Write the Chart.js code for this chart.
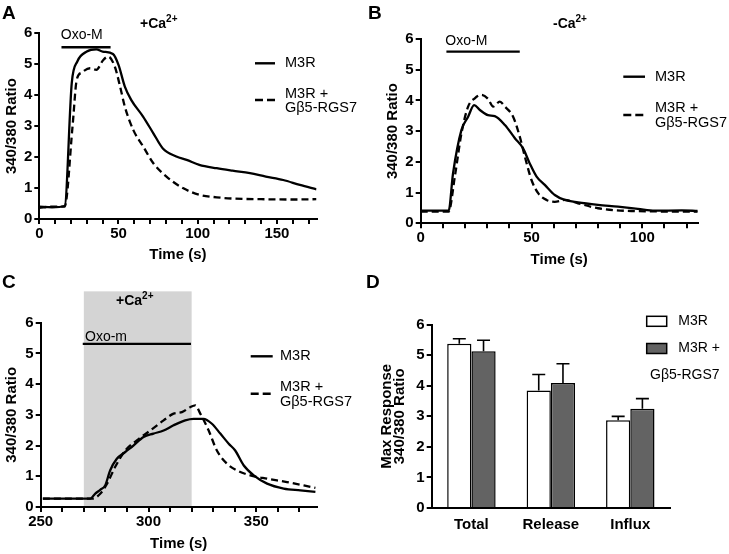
<!DOCTYPE html>
<html><head><meta charset="utf-8">
<script src="https://cdn.jsdelivr.net/npm/chart.js@4.4.1/dist/chart.umd.min.js"></script>
<style>
html,body{margin:0;padding:0;background:#fff;width:729px;height:554px;overflow:hidden;font-family:"Liberation Sans",Arial,sans-serif;}
canvas{position:absolute;left:0;top:0;}
.lbl{position:absolute;font-weight:bold;color:#000;line-height:1;white-space:nowrap;}
.let{font-size:19px;}
.ca{font-size:14px;}
.ca sup{font-size:10px;vertical-align:0;position:relative;top:-6px;}
</style></head><body>
<canvas id="cA" width="729" height="554"></canvas>
<canvas id="cB" width="729" height="554"></canvas>
<canvas id="cC" width="729" height="554"></canvas>
<canvas id="cD" width="729" height="554"></canvas>
<div class="lbl let" style="left:2px;top:3px;">A</div>
<div class="lbl let" style="left:368px;top:3px;">B</div>
<div class="lbl let" style="left:2px;top:272px;">C</div>
<div class="lbl let" style="left:366px;top:272px;">D</div>
<div class="lbl ca" style="left:140px;top:16px;">+Ca<sup>2+</sup></div>
<div class="lbl ca" style="left:553px;top:16px;">-Ca<sup>2+</sup></div>
<div class="lbl ca" style="left:116px;top:293px;">+Ca<sup>2+</sup></div>
<script>
// ---------- DATA ----------
// Panel A (+Ca2+)
const aTimeM3R = [0, 8, 16, 20.5, 24, 30, 36, 40, 46.5, 50, 54, 58, 65.5, 72, 78, 86.5, 93, 101, 112, 122, 133, 143, 154, 164.5, 175];
const aM3R     = [0.40, 0.38, 0.42, 4.40, 5.09, 5.41, 5.48, 5.41, 5.33, 4.98, 4.28, 3.85, 3.31, 2.77, 2.28, 2.02, 1.91, 1.75, 1.64, 1.56, 1.48, 1.37, 1.26, 1.10, 0.96];
const aTimeRGS = [0, 8, 16, 21, 23.6, 26.7, 32, 36, 40.4, 43.5, 47.7, 51, 54, 59.3, 65.6, 72, 80.3, 91, 101.4, 112, 122, 140, 160, 175];
const aRGS     = [0.36, 0.40, 0.40, 3.00, 4.49, 4.73, 4.87, 4.82, 5.14, 5.25, 4.92, 4.28, 3.63, 2.88, 2.34, 1.80, 1.37, 0.99, 0.78, 0.70, 0.66, 0.64, 0.63, 0.64];
const aOxo = [14, 45]; const aOxoLevel = 5.55;

// Panel B (-Ca2+)
const bTimeM3R = [0, 12.6, 14.6, 18.4, 21.4, 24.1, 26.7, 30.4, 33.4, 38, 42.5, 46.2, 49.2, 52.3, 56, 60.5, 65, 71, 80, 89, 98, 105.7, 117.8, 125];
const bM3R     = [0.41, 0.41, 1.63, 3.04, 3.47, 3.85, 3.69, 3.52, 3.49, 3.20, 2.77, 2.44, 1.95, 1.52, 1.25, 0.92, 0.76, 0.68, 0.60, 0.54, 0.47, 0.41, 0.42, 0.40];
const bTimeRGS = [0, 12.6, 15.4, 18.4, 21.4, 24.4, 27.4, 30.4, 32.7, 35.7, 38, 41.7, 44.7, 47, 50, 53, 56.8, 60.5, 65, 71, 80, 95, 125];
const bRGS     = [0.38, 0.38, 1.52, 2.93, 3.80, 4.07, 4.18, 4.05, 3.80, 3.96, 3.80, 3.47, 2.82, 2.17, 1.41, 0.98, 0.76, 0.70, 0.76, 0.65, 0.49, 0.40, 0.38];
const bOxo = [11.6, 44.7]; const bOxoLevel = 5.59;

// Panel C (Ca2+ add-back)
const cTimeM3R = [251, 273, 275.2, 277.6, 279.9, 282.2, 285.3, 289.2, 293, 297.7, 302.3, 307, 311.6, 317, 320.9, 325.5, 329.4, 333.3, 337.2, 340.2, 344.1, 348.8, 355, 362.7, 370.4, 377.4];
const cM3R     = [0.27, 0.27, 0.43, 0.56, 0.70, 1.19, 1.57, 1.79, 2.00, 2.28, 2.39, 2.49, 2.66, 2.82, 2.87, 2.87, 2.71, 2.39, 2.06, 1.84, 1.36, 1.03, 0.76, 0.60, 0.54, 0.49];
const cTimeRGS = [251, 273.7, 277.6, 280.7, 284.5, 289.2, 294.6, 300.8, 307, 311.6, 315.5, 319.3, 321.7, 324, 327.9, 331.7, 336.4, 341, 347.2, 355, 364.2, 372, 377.4];
const cRGS     = [0.27, 0.27, 0.43, 0.75, 1.30, 1.84, 2.17, 2.49, 2.82, 3.04, 3.09, 3.25, 3.31, 3.04, 2.49, 1.84, 1.41, 1.19, 1.03, 0.92, 0.81, 0.70, 0.62];
const cOxo = [269.5, 319.7]; const cOxoLevel = 5.31;
const cCaBand = [270, 320];

// Panel D (max response)
const dCategories = ['Total', 'Release', 'Influx'];
const dM3R    = [5.38, 3.85, 2.87];
const dM3RErr = [0.16, 0.52, 0.13];
const dRGS    = [5.13, 4.09, 3.25];
const dRGSErr = [0.36, 0.63, 0.33];

const yTicks = [0, 1, 2, 3, 4, 5, 6];

// ---------- HELPERS ----------
const FONT = '"Liberation Sans", Arial, sans-serif';
const W = 729, H = 554;
const xy = (t, v) => t.map((x, i) => ({x, y: v[i]}));

const deco = {
  id: 'deco',
  beforeDraw(chart, args, o) {
    if (!o.band) return;
    const {ctx, scales: {x, y}} = chart;
    const x0 = x.getPixelForValue(o.band[0]), x1 = x.getPixelForValue(o.band[1]);
    const y0 = y.getPixelForValue(0), y1 = y.getPixelForValue(o.bandTop);
    ctx.save(); ctx.fillStyle = o.bandColor; ctx.fillRect(x0, y1, x1 - x0, y0 - y1); ctx.restore();
  },
  afterDatasetsDraw(chart, args, o) {
    const {ctx, scales: {x, y}} = chart;
    ctx.save();
    (o.texts || []).forEach(t => {
      ctx.font = t.font; ctx.fillStyle = '#000'; ctx.textAlign = 'center'; ctx.textBaseline = 'middle';
      ctx.fillText(t.text, x.getPixelForValue(t.x), y.getPixelForValue(t.y) + t.dy);
    });
    (o.errors || []).forEach(e => {
      const meta = chart.getDatasetMeta(e.ds);
      const vals = chart.data.datasets[e.ds].data;
      meta.data.forEach((el, i) => {
        const top = y.getPixelForValue(vals[i] + e.err[i]);
        ctx.strokeStyle = '#000'; ctx.lineWidth = 1.6; ctx.setLineDash([]);
        ctx.beginPath();
        ctx.moveTo(el.x, el.y); ctx.lineTo(el.x, top);
        ctx.moveTo(el.x - 6.5, top); ctx.lineTo(el.x + 6.5, top);
        ctx.stroke();
      });
    });
    (o.legend || []).forEach(l => {
      if (l.type === 'line') {
        ctx.strokeStyle = '#000'; ctx.lineWidth = 2.4; ctx.setLineDash(l.dash || []);
        ctx.beginPath(); ctx.moveTo(l.x1, l.y); ctx.lineTo(l.x2, l.y); ctx.stroke();
        ctx.setLineDash([]);
      } else if (l.type === 'box') {
        ctx.fillStyle = l.fill; ctx.strokeStyle = '#000'; ctx.lineWidth = 1.5;
        ctx.fillRect(l.x, l.y, l.w, l.h); ctx.strokeRect(l.x, l.y, l.w, l.h);
      }
      (l.texts || []).forEach(t => {
        ctx.font = l.font; ctx.fillStyle = '#000'; ctx.textAlign = 'left'; ctx.textBaseline = 'middle';
        ctx.fillText(t[0], t[1], t[2]);
      });
    });
    ctx.restore();
  }
};

function axisBase() {
  return {
    border: {display: true, color: '#000', width: 2},
    grid: {drawOnChartArea: false, drawTicks: true, tickLength: 5, color: '#000', lineWidth: 2},
  };
}

function lineChart(id, box, xCfg, series, oxo, decoOpts) {
  const ds = [
    {data: series[0], borderColor: '#000', borderWidth: 2.3, pointRadius: 0, cubicInterpolationMode: 'monotone', fill: false},
    {data: series[1], borderColor: '#000', borderWidth: 2.3, borderDash: [7, 4], pointRadius: 0, cubicInterpolationMode: 'monotone', fill: false},
    {data: [{x: oxo[0], y: oxo[2]}, {x: oxo[1], y: oxo[2]}], borderColor: '#000', borderWidth: 2.3, pointRadius: 0, fill: false}
  ];
  return new Chart(document.getElementById(id), {
    type: 'line',
    data: {datasets: ds},
    options: {
      responsive: false, animation: false, devicePixelRatio: 1,
      layout: {padding: {left: box.L - box.wy, top: box.T, right: W - box.R, bottom: H - box.B - box.hx}},
      plugins: {legend: {display: false}, tooltip: {enabled: false}, deco: decoOpts},
      scales: {
        x: Object.assign(axisBase(), {
          type: 'linear', min: xCfg.min, max: xCfg.max,
          afterFit: s => { s.height = box.hx; },
          ticks: {stepSize: 10, autoSkip: false, maxRotation: 0, includeBounds: false, color: '#000', padding: 1,
            font: {family: FONT, size: 15, weight: 'bold'},
            callback: v => (v % 50 === 0 ? String(v) : '')},
          title: {display: true, text: 'Time (s)', color: '#000', padding: {top: 0, bottom: 0},
            font: {family: FONT, size: 15, weight: 'bold', lineHeight: 1.2}}
        }),
        y: Object.assign(axisBase(), {
          type: 'linear', min: 0, max: 6,
          afterFit: s => { s.width = box.wy; },
          afterBuildTicks: s => { s.ticks = yTicks.map(v => ({value: v})); },
          ticks: {color: '#000', padding: 2, font: {family: FONT, size: 15, weight: 'bold'}},
          title: {display: true, text: '340/380 Ratio', color: '#000', padding: {top: box.tp, bottom: 0},
            font: {family: FONT, size: 15, weight: 'bold', lineHeight: 1.2}}
        })
      }
    },
    plugins: [deco]
  });
}

const LF = '14.5px ' + FONT;
function lineLegend(x1, x2, x, ySolid, yDash, y1, y2) {
  return [
    {type: 'line', x1, x2, y: ySolid, texts: [['M3R', x, ySolid]], font: LF},
    {type: 'line', x1, x2, y: yDash, dash: [8, 4], texts: [['M3R +', x, y1], ['G\u03B25-RGS7', x, y2]], font: LF}
  ];
}
const OXF = '14px ' + FONT;

// Panel A
lineChart('cA', {L: 39.3, T: 33.3, R: 316.5, B: 219, wy: 39, hx: 45, tp: 3},
  {min: 0, max: 175}, [xy(aTimeM3R, aM3R), xy(aTimeRGS, aRGS)], [aOxo[0], aOxo[1], aOxoLevel],
  {texts: [{text: 'Oxo-M', x: 26.8, y: aOxoLevel, dy: -12, font: OXF}],
   legend: lineLegend(255, 275, 285, 63.3, 100, 94.3, 108.3)});

// Panel B
lineChart('cB', {L: 420.7, T: 39, R: 697.7, B: 223.3, wy: 40.7, hx: 45.7, tp: 4.3},
  {min: 0, max: 125}, [xy(bTimeM3R, bM3R), xy(bTimeRGS, bRGS)], [bOxo[0], bOxo[1], bOxoLevel],
  {texts: [{text: 'Oxo-M', x: 20.6, y: bOxoLevel, dy: -10, font: OXF}],
   legend: lineLegend(623.3, 645, 655, 76.7, 115, 108.3, 123.3)});

// Panel C
lineChart('cC', {L: 40.7, T: 322.7, R: 316.7, B: 507, wy: 40.7, hx: 45.7, tp: 2.7},
  {min: 250, max: 378}, [xy(cTimeM3R, cM3R), xy(cTimeRGS, cRGS)], [cOxo[0], cOxo[1], cOxoLevel],
  {band: cCaBand, bandTop: 7.02, bandColor: '#d4d4d4',
   texts: [{text: 'Oxo-m', x: 280.3, y: cOxoLevel, dy: -7, font: OXF}],
   legend: lineLegend(250.7, 272.7, 280, 356.3, 393.7, 387, 402)});

// Panel D
(function () {
  const box = {L: 431.7, T: 324.7, R: 670, B: 508, wy: 61.7, hx: 30};
  new Chart(document.getElementById('cD'), {
    type: 'bar',
    data: {labels: dCategories, datasets: [
      {label: 'M3R', data: dM3R, backgroundColor: '#ffffff', borderColor: '#000', borderWidth: 1.5},
      {label: 'M3R + G\u03B25-RGS7', data: dRGS, backgroundColor: '#636363', borderColor: '#000', borderWidth: 1.5}
    ]},
    options: {
      responsive: false, animation: false, devicePixelRatio: 1,
      datasets: {bar: {categoryPercentage: 0.61, barPercentage: 1.0}},
      layout: {padding: {left: box.L - box.wy, top: box.T, right: W - box.R, bottom: H - box.B - box.hx}},
      plugins: {legend: {display: false}, tooltip: {enabled: false},
        deco: {
          errors: [{ds: 0, err: dM3RErr}, {ds: 1, err: dRGSErr}],
          legend: [
            {type: 'box', x: 646.7, y: 316.3, w: 20, h: 10, fill: '#ffffff', font: '14px ' + FONT, texts: [['M3R', 678.3, 321.3]]},
            {type: 'box', x: 646.7, y: 343.5, w: 20, h: 10, fill: '#636363', font: '14px ' + FONT, texts: [['M3R +', 678.3, 348.5], ['G\u03B25-RGS7', 650, 374.7]]}
          ]
        }},
      scales: {
        x: {
          border: {display: true, color: '#000', width: 2},
          grid: {display: true, drawOnChartArea: false, drawTicks: false, color: 'rgba(0,0,0,0)'},
          afterFit: s => { s.height = box.hx; },
          ticks: {color: '#000', padding: 8, font: {family: FONT, size: 15, weight: 'bold'}}
        },
        y: Object.assign(axisBase(), {
          min: 0, max: 6,
          afterFit: s => { s.width = box.wy; },
          afterBuildTicks: s => { s.ticks = yTicks.map(v => ({value: v})); },
          ticks: {color: '#000', padding: 2, font: {family: FONT, size: 15, weight: 'bold'}},
          title: {display: true, text: ['Max Response', '340/380 Ratio'], color: '#000', padding: {top: 10, bottom: 0},
            font: {family: FONT, size: 15, weight: 'bold', lineHeight: 0.9}}
        })
      }
    },
    plugins: [deco]
  });
})();
</script>
</body></html>
